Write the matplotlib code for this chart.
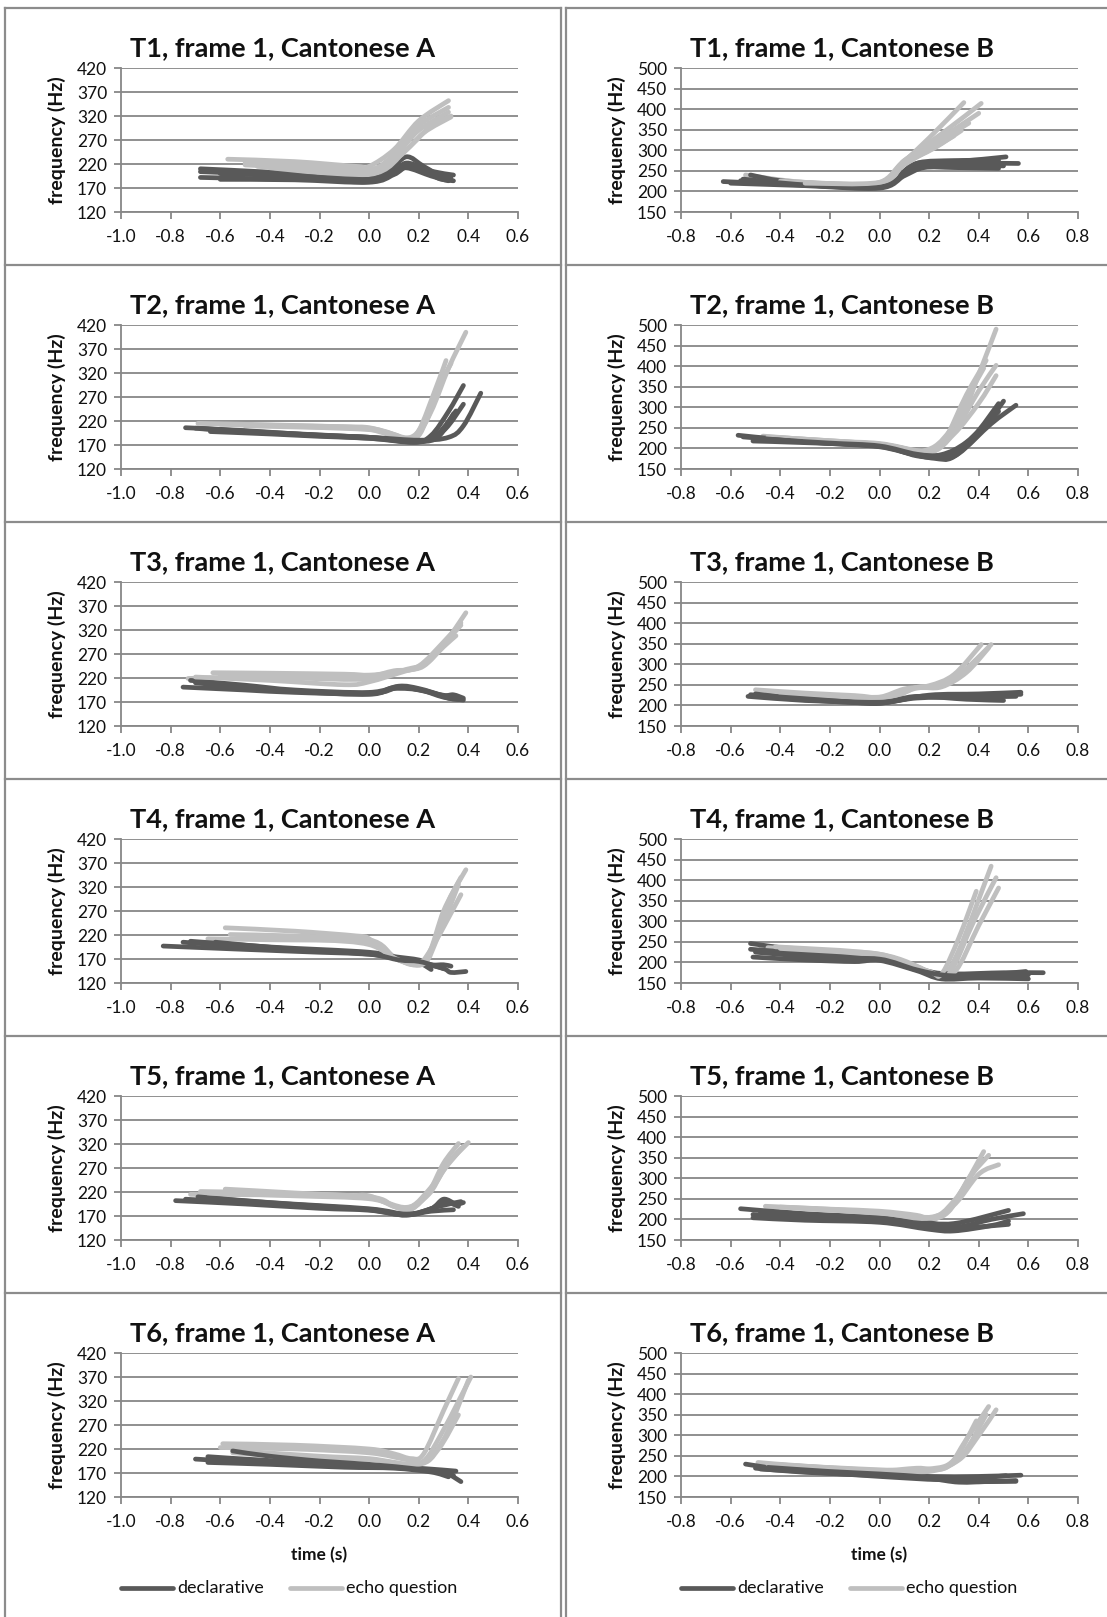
import matplotlib
matplotlib.use("Agg")
import matplotlib.pyplot as plt
from matplotlib.lines import Line2D
from matplotlib.path import Path
from matplotlib.patches import PathPatch

# ---------------------------------------------------------------------------
# F0 contours (time in s, frequency in Hz), one list of (t, f) points per utterance
# ---------------------------------------------------------------------------
T1A_declarative = [
    [(-0.68, 210), (-0.4, 203), (-0.2, 196), (0.0, 190), (0.08, 205), (0.15, 235), (0.22, 215), (0.3, 192), (0.33, 195)],
    [(-0.68, 204), (-0.4, 198), (-0.2, 192), (0.0, 186), (0.1, 205), (0.15, 222), (0.22, 210), (0.28, 190), (0.34, 185)],
    [(-0.68, 192), (-0.5, 190), (-0.2, 187), (0.0, 183), (0.1, 200), (0.15, 212), (0.25, 195), (0.32, 185)],
    [(-0.6, 188), (-0.3, 187), (0.0, 182), (0.1, 198), (0.16, 215), (0.25, 200), (0.33, 190)],
    [(-0.6, 200), (-0.3, 195), (0.0, 188), (0.1, 203), (0.15, 220), (0.25, 205), (0.34, 197)],
]
T1A_echo = [
    [(-0.57, 230), (-0.3, 225), (-0.05, 215), (0.0, 215), (0.1, 250), (0.2, 310), (0.32, 352)],
    [(-0.5, 222), (-0.2, 215), (0.0, 208), (0.1, 240), (0.2, 300), (0.32, 338)],
    [(-0.5, 218), (-0.2, 210), (0.0, 202), (0.1, 235), (0.2, 290), (0.32, 328)],
    [(-0.45, 215), (-0.2, 208), (0.0, 200), (0.12, 235), (0.22, 285), (0.33, 318)],
    [(-0.4, 212), (0.0, 198), (0.15, 250), (0.25, 300), (0.33, 320)],
]

T1B_declarative = [
    [(-0.63, 224), (-0.4, 218), (-0.2, 213), (0.0, 212), (0.08, 240), (0.15, 268), (0.3, 272), (0.51, 284)],
    [(-0.56, 226), (-0.4, 220), (-0.2, 212), (0.0, 210), (0.08, 235), (0.15, 262), (0.35, 268), (0.56, 268)],
    [(-0.52, 240), (-0.4, 226), (-0.2, 215), (0.0, 213), (0.1, 245), (0.16, 270), (0.3, 275), (0.48, 276)],
    [(-0.6, 220), (-0.3, 214), (0.0, 208), (0.1, 238), (0.18, 258), (0.3, 258), (0.48, 256)],
    [(-0.55, 230), (-0.3, 216), (0.0, 211), (0.1, 242), (0.18, 265), (0.35, 265), (0.5, 262)],
]
T1B_echo = [
    [(-0.54, 240), (-0.3, 222), (0.0, 220), (0.08, 262), (0.2, 330), (0.34, 416)],
    [(-0.5, 232), (-0.2, 218), (0.0, 222), (0.1, 275), (0.25, 340), (0.41, 414)],
    [(-0.45, 228), (-0.2, 216), (0.0, 218), (0.1, 270), (0.25, 330), (0.4, 390)],
    [(-0.4, 225), (0.0, 220), (0.1, 275), (0.22, 315), (0.36, 366)],
    [(-0.35, 222), (0.0, 218), (0.1, 268), (0.22, 305), (0.33, 348)],
    [(-0.3, 220), (0.0, 222), (0.1, 265), (0.2, 300), (0.3, 335)],
]

T2A_declarative = [
    [(-0.74, 206), (-0.5, 200), (-0.2, 190), (0.0, 186), (0.18, 176), (0.25, 190), (0.32, 240), (0.38, 294)],
    [(-0.64, 198), (-0.4, 193), (-0.2, 188), (0.0, 184), (0.2, 176), (0.3, 200), (0.38, 255)],
    [(-0.68, 204), (-0.4, 195), (0.0, 186), (0.2, 178), (0.28, 195), (0.35, 241)],
    [(-0.6, 200), (-0.3, 192), (0.0, 184), (0.2, 177), (0.28, 188), (0.34, 235)],
    [(-0.7, 205), (-0.4, 196), (0.0, 186), (0.2, 180), (0.32, 186), (0.38, 210), (0.45, 278)],
]
T2A_echo = [
    [(-0.69, 215), (-0.4, 212), (-0.1, 208), (0.0, 206), (0.1, 192), (0.18, 182), (0.25, 240), (0.32, 330), (0.39, 405)],
    [(-0.6, 213), (-0.3, 210), (0.0, 205), (0.15, 185), (0.2, 200), (0.27, 290), (0.31, 346)],
    [(-0.5, 210), (0.0, 202), (0.15, 184), (0.22, 215), (0.28, 290), (0.33, 340)],
    [(-0.55, 212), (-0.1, 206), (0.0, 203), (0.17, 183), (0.23, 220), (0.3, 318)],
]

T2B_declarative = [
    [(-0.57, 232), (-0.4, 222), (-0.2, 214), (0.0, 208), (0.12, 190), (0.2, 180), (0.28, 183), (0.38, 230), (0.48, 309)],
    [(-0.51, 218), (-0.3, 214), (0.0, 206), (0.12, 188), (0.22, 176), (0.3, 180), (0.42, 250), (0.5, 315)],
    [(-0.55, 228), (-0.3, 216), (0.0, 205), (0.15, 182), (0.25, 178), (0.32, 188), (0.45, 260), (0.55, 305)],
    [(-0.5, 224), (-0.2, 212), (0.0, 204), (0.15, 184), (0.25, 182), (0.35, 205), (0.48, 290)],
    [(-0.45, 222), (-0.2, 213), (0.0, 206), (0.15, 186), (0.25, 185), (0.35, 215), (0.46, 280)],
]
T2B_echo = [
    [(-0.47, 230), (-0.2, 218), (0.0, 212), (0.15, 195), (0.22, 195), (0.32, 260), (0.4, 380), (0.47, 490)],
    [(-0.4, 226), (0.0, 210), (0.18, 192), (0.26, 220), (0.35, 330), (0.43, 414)],
    [(-0.45, 228), (0.0, 210), (0.2, 190), (0.3, 240), (0.4, 340), (0.47, 402)],
    [(-0.35, 222), (0.0, 208), (0.2, 192), (0.3, 235), (0.4, 310), (0.47, 377)],
    [(-0.3, 220), (0.0, 210), (0.18, 195), (0.28, 240), (0.36, 330), (0.42, 395)],
]

T3A_declarative = [
    [(-0.75, 201), (-0.5, 195), (-0.3, 190), (0.0, 187), (0.1, 200), (0.2, 196), (0.3, 180), (0.38, 174)],
    [(-0.72, 215), (-0.5, 205), (-0.3, 195), (0.0, 190), (0.12, 203), (0.2, 198), (0.3, 183), (0.36, 176)],
    [(-0.7, 210), (-0.4, 196), (0.0, 188), (0.12, 201), (0.2, 195), (0.3, 184), (0.34, 185), (0.38, 178)],
    [(-0.65, 205), (-0.3, 192), (0.0, 186), (0.1, 198), (0.22, 194), (0.32, 178), (0.37, 175)],
]
T3A_echo = [
    [(-0.73, 219), (-0.5, 222), (-0.2, 222), (0.0, 224), (0.1, 235), (0.2, 242), (0.3, 290), (0.39, 356)],
    [(-0.63, 231), (-0.4, 230), (-0.1, 228), (0.0, 226), (0.1, 232), (0.2, 245), (0.3, 295), (0.37, 335)],
    [(-0.7, 222), (-0.4, 215), (-0.1, 206), (0.0, 212), (0.15, 235), (0.22, 245), (0.3, 285), (0.35, 308)],
    [(-0.6, 225), (-0.3, 220), (0.0, 218), (0.15, 238), (0.23, 250), (0.3, 290), (0.37, 330)],
]

T3B_declarative = [
    [(-0.53, 222), (-0.3, 212), (-0.1, 208), (0.0, 205), (0.15, 220), (0.3, 222), (0.57, 227)],
    [(-0.5, 228), (-0.3, 215), (0.0, 208), (0.15, 222), (0.35, 215), (0.5, 212)],
    [(-0.52, 226), (-0.2, 212), (0.0, 206), (0.2, 225), (0.4, 228), (0.57, 232)],
    [(-0.45, 220), (-0.2, 210), (0.0, 206), (0.15, 218), (0.35, 220), (0.55, 222)],
]
T3B_echo = [
    [(-0.5, 238), (-0.3, 230), (-0.1, 224), (0.0, 220), (0.1, 240), (0.2, 248), (0.3, 275), (0.41, 348)],
    [(-0.45, 232), (0.0, 218), (0.15, 244), (0.25, 250), (0.35, 290), (0.45, 348)],
    [(-0.4, 230), (0.0, 220), (0.15, 242), (0.25, 245), (0.35, 280), (0.44, 340)],
]

T4A_declarative = [
    [(-0.83, 197), (-0.5, 190), (-0.2, 184), (0.0, 180), (0.1, 172), (0.2, 163), (0.3, 150), (0.33, 142), (0.39, 144)],
    [(-0.75, 205), (-0.4, 192), (0.0, 182), (0.1, 175), (0.2, 168), (0.25, 158), (0.3, 158), (0.33, 155)],
    [(-0.72, 207), (-0.4, 195), (0.0, 184), (0.1, 172), (0.2, 162), (0.25, 148)],
    [(-0.62, 205), (-0.3, 190), (0.0, 180), (0.12, 168), (0.2, 165), (0.27, 155), (0.3, 150)],
]
T4A_echo = [
    [(-0.58, 235), (-0.3, 228), (-0.05, 218), (0.0, 212), (0.1, 172), (0.2, 160), (0.25, 190), (0.32, 290), (0.39, 356)],
    [(-0.56, 221), (-0.3, 218), (0.0, 210), (0.1, 175), (0.18, 158), (0.24, 180), (0.3, 270), (0.37, 340)],
    [(-0.65, 212), (-0.4, 210), (0.0, 205), (0.1, 172), (0.2, 162), (0.26, 200), (0.37, 304)],
    [(-0.5, 215), (-0.2, 210), (0.0, 200), (0.12, 168), (0.22, 160), (0.28, 220), (0.36, 325)],
]

T4B_declarative = [
    [(-0.52, 246), (-0.3, 228), (-0.1, 215), (0.0, 215), (0.1, 200), (0.2, 178), (0.3, 172), (0.5, 175), (0.66, 175)],
    [(-0.52, 232), (-0.3, 222), (0.0, 210), (0.15, 185), (0.25, 165), (0.4, 168), (0.59, 178)],
    [(-0.51, 213), (-0.3, 206), (-0.1, 202), (0.0, 205), (0.15, 180), (0.25, 160), (0.4, 162), (0.6, 160)],
    [(-0.5, 225), (-0.2, 210), (0.0, 208), (0.15, 182), (0.28, 168), (0.45, 170), (0.6, 170)],
]
T4B_echo = [
    [(-0.48, 240), (-0.2, 228), (0.0, 220), (0.15, 190), (0.25, 168), (0.32, 230), (0.45, 434)],
    [(-0.45, 236), (0.0, 218), (0.2, 175), (0.28, 172), (0.38, 300), (0.47, 406)],
    [(-0.4, 234), (0.0, 216), (0.2, 172), (0.3, 175), (0.4, 290), (0.48, 381)],
    [(-0.42, 238), (0.0, 220), (0.2, 178), (0.25, 172), (0.32, 260), (0.39, 373)],
]

T5A_declarative = [
    [(-0.78, 202), (-0.5, 195), (-0.2, 186), (0.0, 182), (0.15, 172), (0.25, 185), (0.3, 205), (0.35, 195), (0.38, 198)],
    [(-0.74, 205), (-0.5, 198), (-0.2, 188), (0.0, 184), (0.15, 173), (0.25, 180), (0.34, 183)],
    [(-0.69, 210), (-0.4, 198), (0.0, 185), (0.15, 174), (0.25, 185), (0.3, 200), (0.36, 190)],
    [(-0.65, 207), (-0.3, 194), (0.0, 183), (0.15, 172), (0.28, 190), (0.37, 200)],
]
T5A_echo = [
    [(-0.72, 215), (-0.4, 214), (-0.1, 212), (0.0, 212), (0.1, 190), (0.17, 184), (0.25, 225), (0.32, 280), (0.4, 323)],
    [(-0.68, 221), (-0.4, 218), (0.0, 210), (0.1, 190), (0.17, 185), (0.24, 220), (0.3, 280), (0.36, 321)],
    [(-0.58, 226), (-0.3, 218), (0.0, 208), (0.15, 186), (0.25, 230), (0.3, 270), (0.37, 311)],
    [(-0.65, 218), (-0.3, 212), (0.0, 206), (0.15, 188), (0.24, 215), (0.3, 265), (0.38, 315)],
]

T5B_declarative = [
    [(-0.56, 226), (-0.3, 214), (0.0, 205), (0.15, 195), (0.3, 190), (0.52, 222)],
    [(-0.51, 212), (-0.3, 205), (0.0, 198), (0.2, 182), (0.32, 182), (0.45, 200), (0.58, 214)],
    [(-0.51, 204), (-0.3, 198), (0.0, 193), (0.2, 176), (0.3, 172), (0.45, 185), (0.52, 196)],
    [(-0.48, 218), (-0.2, 205), (0.0, 200), (0.2, 185), (0.3, 178), (0.52, 188)],
]
T5B_echo = [
    [(-0.46, 232), (-0.2, 225), (0.0, 220), (0.15, 210), (0.22, 200), (0.3, 240), (0.42, 365)],
    [(-0.4, 230), (0.0, 218), (0.2, 205), (0.28, 220), (0.36, 300), (0.44, 356)],
    [(-0.35, 228), (0.0, 215), (0.2, 205), (0.3, 235), (0.4, 310), (0.48, 333)],
    [(-0.3, 226), (0.0, 216), (0.2, 203), (0.3, 245), (0.41, 345)],
]

T6A_declarative = [
    [(-0.7, 199), (-0.4, 190), (-0.2, 186), (0.0, 184), (0.2, 178), (0.3, 172), (0.37, 152)],
    [(-0.65, 204), (-0.4, 196), (0.0, 186), (0.2, 180), (0.35, 174)],
    [(-0.65, 192), (-0.4, 188), (-0.1, 182), (0.1, 180), (0.25, 172), (0.32, 162)],
    [(-0.55, 216), (-0.4, 205), (-0.2, 195), (0.0, 188), (0.2, 178), (0.3, 170), (0.34, 165)],
]
T6A_echo = [
    [(-0.59, 231), (-0.3, 228), (0.0, 220), (0.1, 210), (0.17, 200), (0.22, 210), (0.3, 300), (0.36, 367)],
    [(-0.6, 223), (-0.3, 220), (0.0, 212), (0.15, 198), (0.22, 195), (0.3, 260), (0.41, 370)],
    [(-0.5, 215), (-0.2, 205), (0.0, 200), (0.2, 190), (0.3, 240), (0.4, 363)],
    [(-0.55, 212), (-0.2, 200), (0.0, 198), (0.2, 188), (0.28, 220), (0.36, 291)],
]

T6B_declarative = [
    [(-0.54, 230), (-0.4, 218), (-0.2, 210), (0.0, 204), (0.2, 200), (0.4, 200), (0.57, 203)],
    [(-0.5, 220), (-0.3, 210), (0.0, 202), (0.2, 195), (0.32, 186), (0.45, 188), (0.55, 190)],
    [(-0.48, 218), (-0.2, 208), (0.0, 200), (0.25, 192), (0.4, 196), (0.51, 202)],
    [(-0.45, 222), (-0.2, 212), (0.0, 206), (0.2, 198), (0.35, 188), (0.55, 188)],
]
T6B_echo = [
    [(-0.49, 234), (-0.3, 225), (0.0, 215), (0.15, 220), (0.27, 222), (0.35, 290), (0.44, 370)],
    [(-0.45, 230), (0.0, 214), (0.2, 218), (0.3, 240), (0.39, 335)],
    [(-0.4, 228), (0.0, 216), (0.2, 215), (0.32, 240), (0.4, 300), (0.47, 362)],
    [(-0.35, 226), (0.0, 212), (0.22, 214), (0.33, 250), (0.43, 350)],
]

tones = ["T1", "T2", "T3", "T4", "T5", "T6"]
speakers = ["A", "B"]
panel_data = {
    ("T1", "A"): (T1A_declarative, T1A_echo), ("T1", "B"): (T1B_declarative, T1B_echo),
    ("T2", "A"): (T2A_declarative, T2A_echo), ("T2", "B"): (T2B_declarative, T2B_echo),
    ("T3", "A"): (T3A_declarative, T3A_echo), ("T3", "B"): (T3B_declarative, T3B_echo),
    ("T4", "A"): (T4A_declarative, T4A_echo), ("T4", "B"): (T4B_declarative, T4B_echo),
    ("T5", "A"): (T5A_declarative, T5A_echo), ("T5", "B"): (T5B_declarative, T5B_echo),
    ("T6", "A"): (T6A_declarative, T6A_echo), ("T6", "B"): (T6B_declarative, T6B_echo),
}

x_ticks = {"A": [-1.0, -0.8, -0.6, -0.4, -0.2, 0.0, 0.2, 0.4, 0.6],
           "B": [-0.8, -0.6, -0.4, -0.2, 0.0, 0.2, 0.4, 0.6, 0.8]}
y_ticks = {"A": [120, 170, 220, 270, 320, 370, 420],
           "B": [150, 200, 250, 300, 350, 400, 450, 500]}
series_labels = ["declarative", "echo question"]

# ---------------------------------------------------------------------------
# Styling
# ---------------------------------------------------------------------------
W, H, DPI = 1107, 1617, 100
DARK = "#595959"
LIGHT = "#bfbfbf"
GRID = "#878787"
BORDER = "#8c8c8c"
TEXT = "#111111"
FONT = ["Lato", "DejaVu Sans"]
LW = 3.4

plt.rcParams["font.family"] = FONT
plt.rcParams["axes.unicode_minus"] = False

fig = plt.figure(figsize=(W / DPI, H / DPI), dpi=DPI)
fig.patch.set_facecolor("white")


def fx(px):
    return px / W


def fy(py):
    return 1 - py / H


def smooth_path(points):
    """Smoothed line through the given points (Catmull-Rom style Bezier segments)."""
    n = len(points)
    verts = [points[0]]
    codes = [Path.MOVETO]
    for i in range(n - 1):
        p0 = points[i - 1] if i > 0 else points[i]
        p1 = points[i]
        p2 = points[i + 1]
        p3 = points[i + 2] if i + 2 < n else points[i + 1]
        c1 = (p1[0] + (p2[0] - p0[0]) / 6, p1[1] + (p2[1] - p0[1]) / 6)
        c2 = (p2[0] - (p3[0] - p1[0]) / 6, p2[1] - (p3[1] - p1[1]) / 6)
        verts += [c1, c2, p2]
        codes += [Path.CURVE4] * 3
    return Path(verts, codes)


ROW_STEP = 257
col_geom = {"A": dict(left=121, right=518, panel=(5, 561)),
            "B": dict(left=681, right=1078, panel=(566, 1118))}

# panel frames
frame_kw = dict(color=BORDER, lw=1.6, transform=fig.transFigure, zorder=0)
for spk in speakers:
    p0, p1 = col_geom[spk]["panel"]
    for r in range(6):
        y = 8 + ROW_STEP * r
        fig.add_artist(Line2D([fx(p0), fx(p1)], [fy(y), fy(y)], **frame_kw))
    for xv in (p0, p1):
        fig.add_artist(Line2D([fx(xv), fx(xv)], [fy(8), fy(H + 5)], **frame_kw))

for r, tone in enumerate(tones):
    top = 68 + ROW_STEP * r
    bottom = 212 + ROW_STEP * r
    for spk in speakers:
        g = col_geom[spk]
        ax = fig.add_axes([fx(g["left"]), fy(bottom), fx(g["right"] - g["left"]),
                           (bottom - top) / H])
        decl, echo = panel_data[(tone, spk)]
        # utterances drawn interleaved, in recording order
        n = max(len(decl), len(echo))
        for i in range(n):
            for group, color in ((echo, LIGHT), (decl, DARK)):
                if i < len(group):
                    patch = PathPatch(smooth_path(group[i]), fill=False, edgecolor=color,
                                      lw=LW, capstyle="round", joinstyle="round", zorder=3)
                    ax.add_patch(patch)
        xt = x_ticks[spk]
        yt = y_ticks[spk]
        ax.set_xlim(xt[0], xt[-1])
        ax.set_ylim(yt[0], yt[-1])
        ax.set_xticks(xt)
        ax.set_xticklabels([f"{v:.1f}" for v in xt])
        ax.set_yticks(yt)
        ax.set_yticklabels([str(v) for v in yt])
        ax.yaxis.grid(True, color=GRID, lw=1.3)
        ax.set_axisbelow(True)
        for s in ("top", "right"):
            ax.spines[s].set_visible(False)
        for s in ("left", "bottom"):
            ax.spines[s].set_color(GRID)
            ax.spines[s].set_linewidth(1.3)
        ax.tick_params(axis="both", direction="out", length=5, width=1.3, color=GRID,
                       labelsize=12.5, labelcolor=TEXT)
        ax.tick_params(axis="x", pad=7)
        ax.tick_params(axis="y", pad=5)
        ax.patch.set_alpha(0)

        p0, p1 = g["panel"]
        fig.text(fx((p0 + p1) / 2), fy(48 + ROW_STEP * r), f"{tone}, frame 1, Cantonese {spk}",
                 ha="center", va="center", fontsize=19.5, fontweight="bold", color=TEXT)
        ylab_x = 57 if spk == "A" else 617
        fig.text(fx(ylab_x), fy((top + bottom) / 2), "frequency (Hz)", rotation=90,
                 ha="center", va="center", fontsize=14, fontweight="bold", color=TEXT)

# bottom row: axis titles and legends
for spk in speakers:
    g = col_geom[spk]
    cx = (g["left"] + g["right"]) / 2
    fig.text(fx(cx), fy(1555), "time (s)", ha="center", va="center", fontsize=12.5,
             fontweight="bold", color=TEXT)
    lx = g["left"]
    entries = [(lx, DARK, series_labels[0]), (lx + 169, LIGHT, series_labels[1])]
    for x0, color, label in entries:
        fig.add_artist(Line2D([fx(x0), fx(x0 + 52)], [fy(1588), fy(1588)], color=color,
                              lw=LW, solid_capstyle="round", transform=fig.transFigure))
        fig.text(fx(x0 + 56), fy(1588), label, ha="left", va="center", fontsize=13,
                 color=TEXT)

fig.savefig("out.png", dpi=DPI, facecolor="white")
